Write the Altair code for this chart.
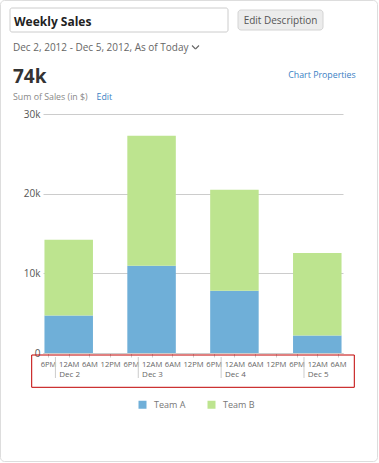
import altair as alt
import pandas as pd

# ---- data ----
days = ["2012-12-02T00:00:00Z", "2012-12-03T00:00:00Z", "2012-12-04T00:00:00Z", "2012-12-05T00:00:00Z"]
day_labels = ["Dec 2", "Dec 3", "Dec 4", "Dec 5"]
team_a = [4720, 10950, 7800, 2200]
team_b = [9500, 16330, 12700, 10350]
teams = ["Team A", "Team B"]
colors = ["#6FAFD8", "#BDE48F"]
y_ticks = [0, 10000, 20000, 30000]
# tick hours (UTC) from 6PM Dec 1 to 6AM Dec 5, every 6 hours
tick_times = [(1, 18), (2, 0), (2, 6), (2, 12), (2, 18), (3, 0), (3, 6), (3, 12), (3, 18),
              (4, 0), (4, 6), (4, 12), (4, 18), (5, 0), (5, 6)]

FONT = "Open Sans"

rows = []
for d, a, b in zip(days, team_a, team_b):
    rows.append({"t": d, "team": "Team A", "v": a, "o": 0})
    rows.append({"t": d, "team": "Team B", "v": b, "o": 1})
df = pd.DataFrame(rows)

xscale = alt.Scale(type="utc",
                   domain=[alt.DateTime(year=2012, month=12, date=1, hours=18, utc=True),
                           alt.DateTime(year=2012, month=12, date=5, hours=6, utc=True)])
tick_vals = [alt.DateTime(year=2012, month=12, date=d, hours=h, utc=True) for d, h in tick_times]

hour_expr = ("utchours(datum.value) == 0 ? '12AM' : utchours(datum.value) < 12 ? utchours(datum.value) + 'AM' : "
             "utchours(datum.value) == 12 ? '12PM' : (utchours(datum.value) - 12) + 'PM'")

xaxis = alt.Axis(values=tick_vals, labelExpr=hour_expr, title=None,
                 labelFontSize=7.6, labelColor="#666", labelFont=FONT,
                 tickColor="#ccc", tickSize=4, domainColor="#ccc",
                 grid=False, labelPadding=3, labelFlush=False, labelOverlap=False)

bars = alt.Chart(df).mark_bar(size=48.5).encode(
    x=alt.X("t:T", scale=xscale, title=None, axis=xaxis),
    y=alt.Y("v:Q", stack="zero", title=None,
            scale=alt.Scale(domain=[0, 30000], nice=False),
            axis=alt.Axis(values=y_ticks, labelExpr="datum.value == 0 ? '0' : (datum.value/1000) + 'k'",
                          labelFontSize=10, labelColor="#555", labelFont=FONT,
                          ticks=False, domain=False, gridColor="#ccc", labelPadding=3)),
    color=alt.Color("team:N", scale=alt.Scale(domain=teams, range=colors),
                    legend=alt.Legend(orient="none", legendX=95, legendY=286, direction="horizontal",
                                      title=None, symbolType="square", symbolSize=64,
                                      symbolStrokeWidth=0, labelFontSize=9, labelColor="#777",
                                      labelFont=FONT, columnPadding=21, labelOffset=7, padding=0)),
    order=alt.Order("o:Q", sort="ascending"),
)

ddf = pd.DataFrame({"t": days, "lab": day_labels})
dividers = alt.Chart(ddf).mark_rule(color="#ccc", xOffset=-13.3).encode(
    x=alt.X("t:T", scale=xscale, title=None, axis=xaxis), y=alt.value(243), y2=alt.value(264))
daytext = alt.Chart(ddf).mark_text(align="left", baseline="alphabetic", dx=-9.5, fontSize=8,
                                   color="#666", font=FONT).encode(
    x=alt.X("t:T", scale=xscale, title=None, axis=xaxis), y=alt.value(262.5), text="lab:N")

def txt(s, x, y, size, color, weight="normal", align="left"):
    return alt.Chart(pd.DataFrame({"s": [s]})).mark_text(
        align=align, baseline="alphabetic", fontSize=size, color=color, fontWeight=weight, font=FONT
    ).encode(x=alt.value(x), y=alt.value(y), text="s:N")

def box(x, y, x2, y2, stroke, fill="transparent", r=0, sw=1):
    return alt.Chart(pd.DataFrame({"a": [0]})).mark_rect(
        stroke=stroke, fill=fill, cornerRadius=r, strokeWidth=sw
    ).encode(x=alt.value(x), x2=alt.value(x2), y=alt.value(y), y2=alt.value(y2))

def seg(x, y, x2, y2, color):
    return alt.Chart(pd.DataFrame({"a": [0]})).mark_rule(color=color, strokeWidth=1.1).encode(
        x=alt.value(x), x2=alt.value(x2), y=alt.value(y), y2=alt.value(y2))

card = box(-42.5, -113.5, 334.5, 347.5, "#dddddd", r=4)
inputbox = box(-33, -106, 185, -82, "#cccccc", fill="white", r=2)
button = box(195, -104, 280, -84, "#d4d4d4", fill="#ececec", r=3)
red = box(-11.3, 241, 311.3, 273.3, "#c00000")

layers = [
    card, inputbox, button,
    txt("Weekly Sales", -29, -88, 12, "#222", weight="bold"),
    txt("Edit Description", 237.5, -90.5, 10, "#555", align="center"),
    txt("Dec 2, 2012 - Dec 5, 2012, As of Today", -30, -63.5, 10, "#666"),
    seg(149, -68.5, 152.5, -65, "#666"), seg(152.5, -65, 156, -68.5, "#666"),
    txt("74k", -30, -30.7, 19, "#333", weight="bold"),
    txt("Chart Properties", 245.3, -36, 8.8, "#3B7FC4"),
    txt("Sum of Sales (in $)", -30, -14, 8.8, "#888"),
    txt("Edit", 53.5, -14, 8.8, "#3B7FC4"),
    bars, dividers, daytext, red,
]

chart = alt.layer(*layers).properties(
    width=300, height=239,
    autosize=alt.AutoSizeParams(type="none"),
    padding={"left": 43, "top": 114, "right": 36, "bottom": 110},
    background="white",
).configure_view(stroke=None)

chart.save("out.html", embed_options={"renderer": "svg", "actions": False})
